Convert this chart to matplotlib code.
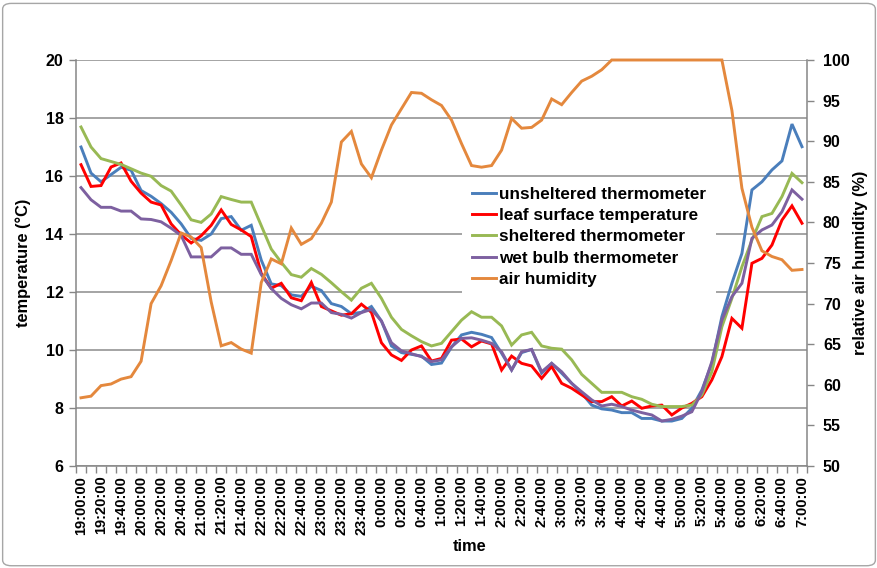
import matplotlib.pyplot as plt
from matplotlib.patches import FancyBboxPatch
import numpy as np

plt.rcParams['font.family'] = ['Liberation Sans', 'DejaVu Sans']
plt.rcParams['font.weight'] = 'bold'

# 10-minute readings from 19:00 to 7:00
times = []
for k in range(73):
    m = 19 * 60 + 10 * k
    times.append(f"{(m // 60) % 24}:{m % 60:02d}:00")

unsheltered = [17.0, 16.1, 15.8, 16.05, 16.3, 16.2, 15.5, 15.3, 15.05, 14.75,
               14.35, 13.85, 13.78, 14.0, 14.53, 14.6, 14.13, 14.3, 13.1, 12.28,
               12.22, 11.9, 11.85, 12.2, 12.05, 11.6, 11.5, 11.25, 11.3, 11.5,
               11.0, 10.14, 9.91, 9.85, 9.79, 9.5, 9.55, 10.1, 10.52, 10.61,
               10.54, 10.43, 9.89, 9.31, 9.91, 10.02, 9.2, 9.54, 9.2, 8.85,
               8.51, 8.1, 7.97, 7.93, 7.84, 7.84, 7.64, 7.64, 7.55, 7.55,
               7.64, 7.99, 8.62, 9.54, 11.15, 12.3, 13.33, 15.52, 15.8, 16.21,
               16.52, 17.79, 17.01]
leaf = [16.39, 15.64, 15.67, 16.31, 16.45, 15.82, 15.41, 15.1, 15.0, 14.35,
        13.97, 13.69, 13.94, 14.3, 14.83, 14.33, 14.14, 13.91, 12.64, 12.13,
        12.3, 11.8, 11.7, 12.33, 11.5, 11.35, 11.2, 11.25, 11.58, 11.3,
        10.25, 9.83, 9.64, 10.0, 10.14, 9.62, 9.71, 10.34, 10.38, 10.11,
        10.31, 10.21, 9.31, 9.79, 9.54, 9.45, 9.02, 9.43, 8.85, 8.68,
        8.45, 8.22, 8.22, 8.39, 8.07, 8.24, 7.99, 8.07, 8.1, 7.76,
        8.0, 8.16, 8.39, 8.97, 9.77, 11.09, 10.75, 12.99, 13.16, 13.62,
        14.48, 14.97, 14.37]
sheltered = [17.69, 17.0, 16.6, 16.5, 16.4, 16.25, 16.1, 15.99, 15.67, 15.48,
             15.0, 14.49, 14.4, 14.69, 15.29, 15.19, 15.1, 15.1, 14.29, 13.48,
             13.02, 12.6, 12.51, 12.81, 12.61, 12.32, 12.01, 11.72, 12.13, 12.3,
             11.78, 11.13, 10.71, 10.49, 10.29, 10.14, 10.23, 10.63, 11.03, 11.32,
             11.13, 11.13, 10.83, 10.17, 10.52, 10.61, 10.14, 10.06, 10.03, 9.66,
             9.16, 8.85, 8.54, 8.54, 8.54, 8.39, 8.3, 8.13, 8.05, 8.05,
             8.05, 8.1, 8.45, 9.25, 10.8, 11.78, 12.87, 13.79, 14.6, 14.71,
             15.29, 16.09, 15.77]
wet_bulb = [15.6, 15.18, 14.92, 14.92, 14.79, 14.79, 14.52, 14.5, 14.42, 14.2,
            13.95, 13.21, 13.21, 13.21, 13.52, 13.52, 13.3, 13.3, 12.6, 12.12,
            11.78, 11.56, 11.42, 11.62, 11.62, 11.29, 11.23, 11.1, 11.29, 11.4,
            11.0, 10.25, 9.97, 9.87, 9.77, 9.6, 9.66, 10.11, 10.4, 10.42,
            10.34, 10.23, 9.94, 9.31, 9.94, 10.02, 9.25, 9.54, 9.25, 8.85,
            8.56, 8.28, 8.07, 8.13, 8.05, 7.93, 7.84, 7.76, 7.55, 7.61,
            7.72, 7.87, 8.56, 9.6, 11.03, 11.84, 12.3, 13.85, 14.14, 14.31,
            14.77, 15.52, 15.2]
humidity = [58.4, 58.6, 59.9, 60.1, 60.7, 61.0, 62.9, 70.0, 72.2, 75.3,
            78.7, 78.2, 76.9, 70.2, 64.8, 65.2, 64.4, 63.9, 72.6, 75.5,
            74.9, 79.3, 77.3, 78.0, 79.9, 82.5, 89.9, 91.2, 87.2, 85.5,
            88.9, 92.0, 94.0, 96.0, 95.9, 95.1, 94.4, 92.6, 89.7, 87.0,
            86.8, 87.0, 88.9, 92.8, 91.6, 91.7, 92.6, 95.2, 94.5, 96.0,
            97.4, 98.0, 98.8, 100, 100, 100, 100, 100, 100, 100,
            100, 100, 100, 100, 100, 93.8, 84.2, 79.4, 76.5, 75.8,
            75.4, 74.1, 74.2]

temp_series = [
    ('unsheltered thermometer', unsheltered, '#4A7EBB'),
    ('leaf surface temperature', leaf, '#FF0000'),
    ('sheltered thermometer', sheltered, '#98B954'),
    ('wet bulb thermometer', wet_bulb, '#7D60A0'),
]
axis_grey = '#868686'

fig = plt.figure(figsize=(8.78, 5.68), dpi=100)
fig.patches.append(FancyBboxPatch((0.003, 0.004), 0.994, 0.99,
                                  boxstyle='round,pad=0,rounding_size=0.01',
                                  transform=fig.transFigure, fc='white',
                                  ec='#A6A6A6', lw=1, zorder=-10))

ax = fig.add_axes([76 / 878, 102 / 568, 731 / 878, 406 / 568])
ax.patch.set_alpha(0)
x = np.arange(len(times))
for name, vals, col in temp_series:
    ax.plot(x, vals, color=col, lw=2.1, label=name, clip_on=False,
            solid_joinstyle='miter')

ax.set_xlim(-0.5, len(times) - 0.5)
ax.set_ylim(6, 20)
ax.set_yticks(range(6, 21, 2))
ax.yaxis.grid(True, color='#8C8C8C', lw=1.1)
ax.set_axisbelow(True)

ax.set_xticks(x[::2])
ax.set_xticklabels(times[::2], rotation=90)
ax.set_xticks(np.arange(-0.5, len(times)), minor=True)
ax.tick_params(axis='x', which='major', length=0, pad=7, labelsize=10.5)
ax.tick_params(axis='x', which='minor', length=5, color=axis_grey, width=1)
ax.tick_params(axis='y', length=5, color=axis_grey, width=1, labelsize=11.5, pad=4)

for s in ['top', 'right']:
    ax.spines[s].set_visible(False)
for s in ['left', 'bottom']:
    ax.spines[s].set_color(axis_grey)
    ax.spines[s].set_linewidth(1.1)

ax.set_ylabel('temperature (°C)', fontsize=11.8, fontweight='bold')
ax.yaxis.set_label_coords(-0.061, 0.5)
ax.set_xlabel('time', fontsize=11.8, fontweight='bold')
ax.xaxis.set_label_coords(0.539, -0.18)

ax2 = ax.twinx()
ax2.plot(x, humidity, color='#E4883D', lw=2.1, label='air humidity',
         clip_on=False, solid_joinstyle='miter')
ax2.set_ylim(50, 100)
ax2.set_yticks(range(50, 101, 5))
ax2.tick_params(axis='y', length=5, color=axis_grey, width=1, labelsize=11.5, pad=6.5)
for s in ['top', 'left', 'bottom']:
    ax2.spines[s].set_visible(False)
ax2.spines['right'].set_color(axis_grey)
ax2.spines['right'].set_linewidth(1.1)
ax2.set_ylabel('relative air humidity (%)', fontsize=11.8, fontweight='bold')
ax2.yaxis.set_label_coords(1.063, 0.5)

h1, l1 = ax.get_legend_handles_labels()
h2, l2 = ax2.get_legend_handles_labels()
leg = ax2.legend(h1 + h2, l1 + l2, loc='upper left', bbox_to_anchor=(0.528, 0.712),
                 fontsize=12.3, frameon=True, facecolor='white', edgecolor='none',
                 fancybox=False, framealpha=1, handlelength=1.4, handletextpad=0.15,
                 labelspacing=0.36, borderpad=0.6, borderaxespad=0)
for t in leg.get_texts():
    t.set_fontweight('bold')

fig.savefig('out.png', dpi=100)
